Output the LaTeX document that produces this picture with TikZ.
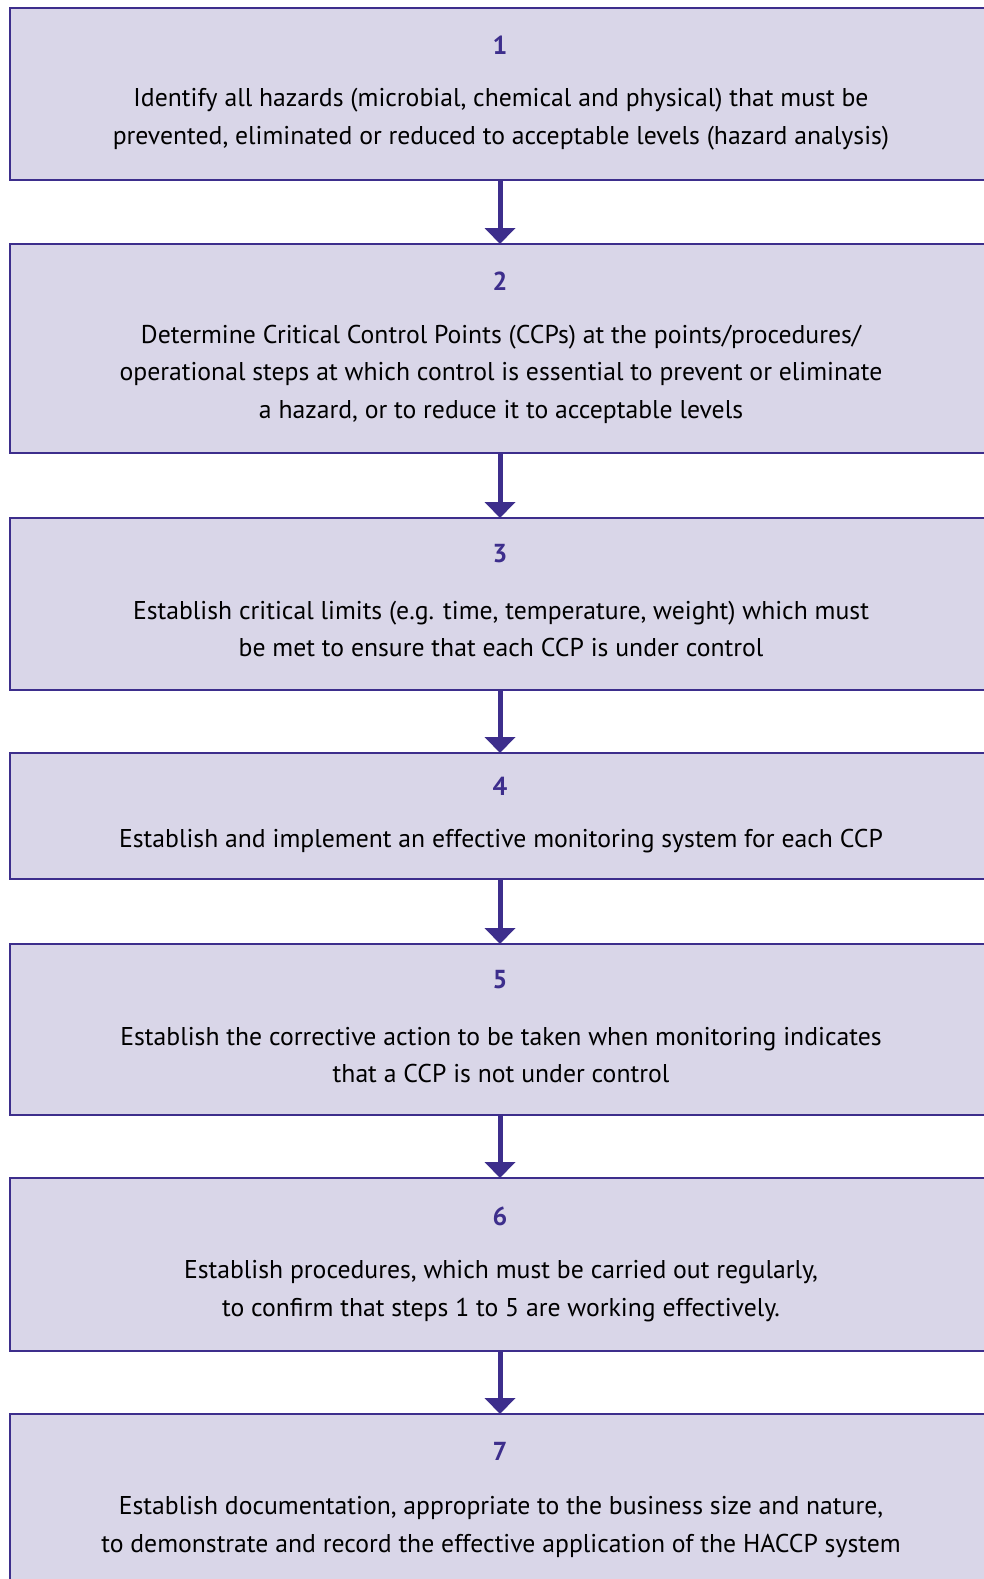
\documentclass[tikz,border=0pt]{standalone}
\usepackage{fontspec}
\setmainfont{PT Sans}
\usetikzlibrary{arrows.meta}
\definecolor{haccpfill}{HTML}{D9D6E8}
\definecolor{haccpline}{HTML}{3D2E8C}

\begin{document}
\begin{tikzpicture}[x=1pt, y=-1pt,
    box/.style={rectangle, draw=haccpline, fill=haccpfill, line width=2.5pt,
        minimum width=980pt, anchor=north west, inner sep=0pt, outer sep=0pt},
    num/.style={text=haccpline, font=\fontsize{26}{30}\selectfont\bfseries},
    txt/.style={align=center, font=\fontsize{25.7}{37.5}\selectfont},
    link/.style={haccpline, line width=5pt, -{Triangle[width=30pt,length=16pt]}}]

    \useasboundingbox (0,0) rectangle (984,1579);

    % Boxes
    \node[box, minimum height=172pt] (b1) at (10,8) {};
    \node[box, minimum height=209pt] (b2) at (10,244) {};
    \node[box, minimum height=172pt] (b3) at (10,518) {};
    \node[box, minimum height=126pt] (b4) at (10,753) {};
    \node[box, minimum height=171pt] (b5) at (10,944) {};
    \node[box, minimum height=173pt] (b6) at (10,1178) {};
    \node[box, minimum height=172pt] (b7) at (10,1414) {};

    % Numbers
    \node[num] (n1) at (500,45) {1};
    \node[num] (n2) at (500,281) {2};
    \node[num] (n3) at (500,554) {3};
    \node[num] (n4) at (500,786) {4};
    \node[num] (n5) at (500,980) {5};
    \node[num] (n6) at (500,1216) {6};
    \node[num] (n7) at (500,1451) {7};

    % Texts
    \node[txt] (t1) at (501,119) {Identify all hazards (microbial, chemical and physical) that must be\\
        prevented, eliminated or reduced to acceptable levels (hazard analysis)};
    \node[txt] (t2) at (501,374) {Determine Critical Control Points (CCPs) at the points/procedures/\\
        operational steps at which control is essential to prevent or eliminate\\
        a hazard, or to reduce it to acceptable levels};
    \node[txt] (t3) at (501,629) {Establish critical limits (e.g. time, temperature, weight) which must\\
        be met to ensure that each CCP is under control};
    \node[txt] (t4) at (501,841) {Establish and implement an effective monitoring system for each CCP};
    \node[txt] (t5) at (501,1055) {Establish the corrective action to be taken when monitoring indicates\\
        that a CCP is not under control};
    \node[txt] (t6) at (501,1291) {Establish procedures, which must be carried out regularly,\\
        to confirm that steps 1 to 5 are working effectively.};
    \node[txt] (t7) at (501,1527) {Establish documentation, appropriate to the business size and nature,\\
        to demonstrate and record the effective application of the HACCP system};

    % Arrows
    \draw[link] (b1.south) -- (b2.north);
    \draw[link] (b2.south) -- (b3.north);
    \draw[link] (b3.south) -- (b4.north);
    \draw[link] (b4.south) -- (b5.north);
    \draw[link] (b5.south) -- (b6.north);
    \draw[link] (b6.south) -- (b7.north);

\end{tikzpicture}
\end{document}
